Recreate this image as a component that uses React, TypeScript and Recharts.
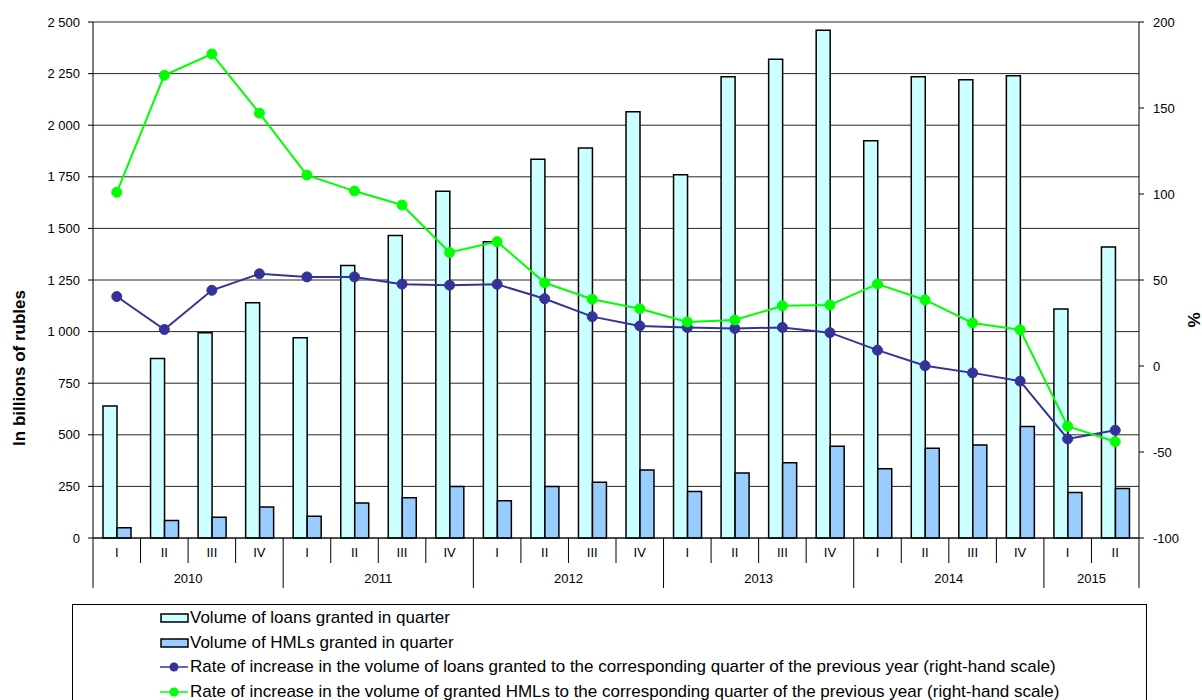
import React from 'react';
import { ComposedChart, Bar, Line, XAxis, YAxis, CartesianGrid } from 'recharts';

const quarters = ['I', 'II', 'III', 'IV', 'I', 'II', 'III', 'IV', 'I', 'II', 'III', 'IV', 'I', 'II', 'III', 'IV', 'I', 'II', 'III', 'IV', 'I', 'II'];
const years = ['2010', '2010', '2010', '2010', '2011', '2011', '2011', '2011', '2012', '2012', '2012', '2012', '2013', '2013', '2013', '2013', '2014', '2014', '2014', '2014', '2015', '2015'];

// billions of rubles (left scale)
const loansVolume = [640, 870, 995, 1140, 970, 1320, 1465, 1680, 1435, 1835, 1890, 2065, 1760, 2235, 2320, 2460, 1925, 2235, 2220, 2240, 1110, 1410];
const hmlVolume = [50, 85, 100, 150, 105, 170, 195, 250, 180, 250, 270, 330, 225, 315, 365, 445, 335, 435, 450, 540, 220, 240];

// % (right scale)
const loansRate = [40.4, 21.2, 44, 53.6, 51.8, 51.8, 47.6, 47, 47.5, 39.1, 28.7, 23.3, 22.4, 21.8, 22.4, 19.4, 9.2, 0.2, -4, -8.8, -42.4, -37.4];
const hmlRate = [101, 169, 181.4, 147, 111, 101.7, 93.6, 66, 72.3, 48.4, 38.8, 33.3, 25.6, 26.7, 35, 35.5, 47.7, 38.4, 25, 21, -35, -44];

const leftTicks = [0, 250, 500, 750, 1000, 1250, 1500, 1750, 2000, 2250, 2500];
const rightTicks = [-100, -50, 0, 50, 100, 150, 200];

const legendLabels = [
  'Volume of loans granted in quarter',
  'Volume of HMLs granted in quarter',
  'Rate of increase in the volume of loans granted to the corresponding quarter of the previous year (right-hand scale)',
  'Rate of increase in the volume of granted HMLs to the corresponding quarter of the previous year (right-hand scale)',
];

const FONT = '"Liberation Sans", Arial, sans-serif';
const CHART_W = 1202;
const CHART_H = 600;
const MARGIN = { top: 22, right: 13, bottom: 12, left: 33 };
const LEFT_AXIS_W = 60;
const RIGHT_AXIS_W = 50;
const PLOT_W = CHART_W - MARGIN.left - MARGIN.right - LEFT_AXIS_W - RIGHT_AXIS_W;

const data = quarters.map((q, i) => ({
  key: `${years[i]}-${q}`,
  quarter: q,
  year: years[i],
  loans: loansVolume[i],
  hml: hmlVolume[i],
  loansRate: loansRate[i],
  hmlRate: hmlRate[i],
}));

const formatThousands = (v: number) => String(v).replace(/\B(?=(\d{3})+(?!\d))/g, ' ');

const QuarterTick = (props: any) => {
  const { x, y, index } = props;
  const band = PLOT_W / quarters.length;
  const left = x - band / 2;
  const isYearStart = index === 0 || quarters[index] === 'I';
  const isLast = index === quarters.length - 1;

  let yearLabel = null;
  if (isYearStart) {
    let count = 0;
    while (index + count < years.length && years[index + count] === years[index]) count++;
    yearLabel = (
      <text x={left + (count * band) / 2} y={y + 45} textAnchor="middle" fontSize={13} fontFamily={FONT} fill="#000">
        {years[index]}
      </text>
    );
  }

  return (
    <g>
      <line x1={left} x2={left} y1={y} y2={isYearStart ? y + 50 : y + 25} stroke="#000" strokeWidth={1} />
      {isLast && <line x1={left + band} x2={left + band} y1={y} y2={y + 50} stroke="#000" strokeWidth={1} />}
      <text x={x} y={y + 19} textAnchor="middle" fontSize={13} fontFamily={FONT} fill="#000">
        {quarters[index]}
      </text>
      {yearLabel}
    </g>
  );
};

const LeftLabel = (props: any) => {
  const { viewBox } = props;
  const cx = viewBox.x - 14;
  const cy = 368;
  return (
    <text x={cx} y={cy} transform={`rotate(-90 ${cx} ${cy})`} textAnchor="middle" dominantBaseline="central"
      fontSize={17} fontWeight="bold" fontFamily={FONT} fill="#000">
      In billions of rubles
    </text>
  );
};

const RightLabel = (props: any) => {
  const { viewBox } = props;
  const cx = viewBox.x + 55;
  const cy = 320;
  return (
    <text x={cx} y={cy} transform={`rotate(-90 ${cx} ${cy})`} textAnchor="middle" dominantBaseline="central"
      fontSize={17} fontWeight="bold" fontFamily={FONT} fill="#000">
      %
    </text>
  );
};

const BarSymbol = ({ fill }: { fill: string }) => (
  <svg width={30} height={12} style={{ display: 'block' }}>
    <rect x={1} y={2} width={27} height={8} fill={fill} stroke="#000" strokeWidth={1.5} />
  </svg>
);

const LineSymbol = ({ color }: { color: string }) => (
  <svg width={30} height={12} style={{ display: 'block' }}>
    <line x1={0} x2={28} y1={6} y2={6} stroke={color} strokeWidth={1.5} />
    <circle cx={14} cy={6} r={4.5} fill={color} />
  </svg>
);

const App: React.FC = () => {
  const symbols = [
    <BarSymbol fill="#CCFFFF" />,
    <BarSymbol fill="#99CCFF" />,
    <LineSymbol color="#333399" />,
    <LineSymbol color="#00FF00" />,
  ];

  return (
    <div style={{ position: 'absolute', left: 0, top: 0, width: 1202, height: 700, background: '#fff', overflow: 'hidden' }}>
      <ComposedChart width={CHART_W} height={CHART_H} data={data} margin={MARGIN} barGap={0} barSize={14}>
        <CartesianGrid yAxisId="left" vertical={false} stroke="#000" strokeWidth={1} strokeOpacity={0.85} />
        <XAxis
          dataKey="key"
          interval={0}
          tickLine={false}
          tickSize={0}
          tickMargin={0}
          height={50}
          axisLine={{ stroke: '#000' }}
          tick={(p: any) => <QuarterTick {...p} />}
        />
        <YAxis
          yAxisId="left"
          width={LEFT_AXIS_W}
          domain={[0, 2500]}
          ticks={leftTicks}
          interval={0}
          tickFormatter={formatThousands}
          tick={{ fontSize: 13, fontFamily: FONT, fill: '#000' }}
          tickLine={{ stroke: '#000' }}
          tickSize={5}
          tickMargin={8}
          axisLine={{ stroke: '#000' }}
          label={<LeftLabel />}
        />
        <YAxis
          yAxisId="right"
          orientation="right"
          width={RIGHT_AXIS_W}
          domain={[-100, 200]}
          ticks={rightTicks}
          interval={0}
          tick={{ fontSize: 13, fontFamily: FONT, fill: '#000' }}
          tickLine={{ stroke: '#000' }}
          tickSize={5}
          tickMargin={9}
          axisLine={{ stroke: '#000' }}
          label={<RightLabel />}
        />
        <Bar yAxisId="left" dataKey="loans" fill="#CCFFFF" stroke="#000" strokeWidth={1.5} isAnimationActive={false} />
        <Bar yAxisId="left" dataKey="hml" fill="#99CCFF" stroke="#000" strokeWidth={1.5} isAnimationActive={false} />
        <Line yAxisId="right" type="linear" dataKey="loansRate" stroke="#333399" strokeWidth={2}
          dot={{ r: 5, fill: '#333399', stroke: '#333399', strokeWidth: 1 }} isAnimationActive={false} />
        <Line yAxisId="right" type="linear" dataKey="hmlRate" stroke="#00FF00" strokeWidth={2}
          dot={{ r: 5, fill: '#00FF00', stroke: '#00FF00', strokeWidth: 1 }} isAnimationActive={false} />
      </ComposedChart>
      <div
        style={{
          position: 'absolute',
          left: 72,
          top: 604,
          width: 1075,
          height: 120,
          border: '1px solid #000',
          boxSizing: 'border-box',
          fontFamily: FONT,
          fontSize: 17,
          color: '#000',
          paddingTop: 1,
        }}
      >
        {legendLabels.map((label, i) => (
          <div key={label} style={{ display: 'flex', alignItems: 'center', height: 24.5, paddingLeft: 87 }}>
            {symbols[i]}
            <span style={{ whiteSpace: 'nowrap' }}>{label}</span>
          </div>
        ))}
      </div>
    </div>
  );
};

export default App;
